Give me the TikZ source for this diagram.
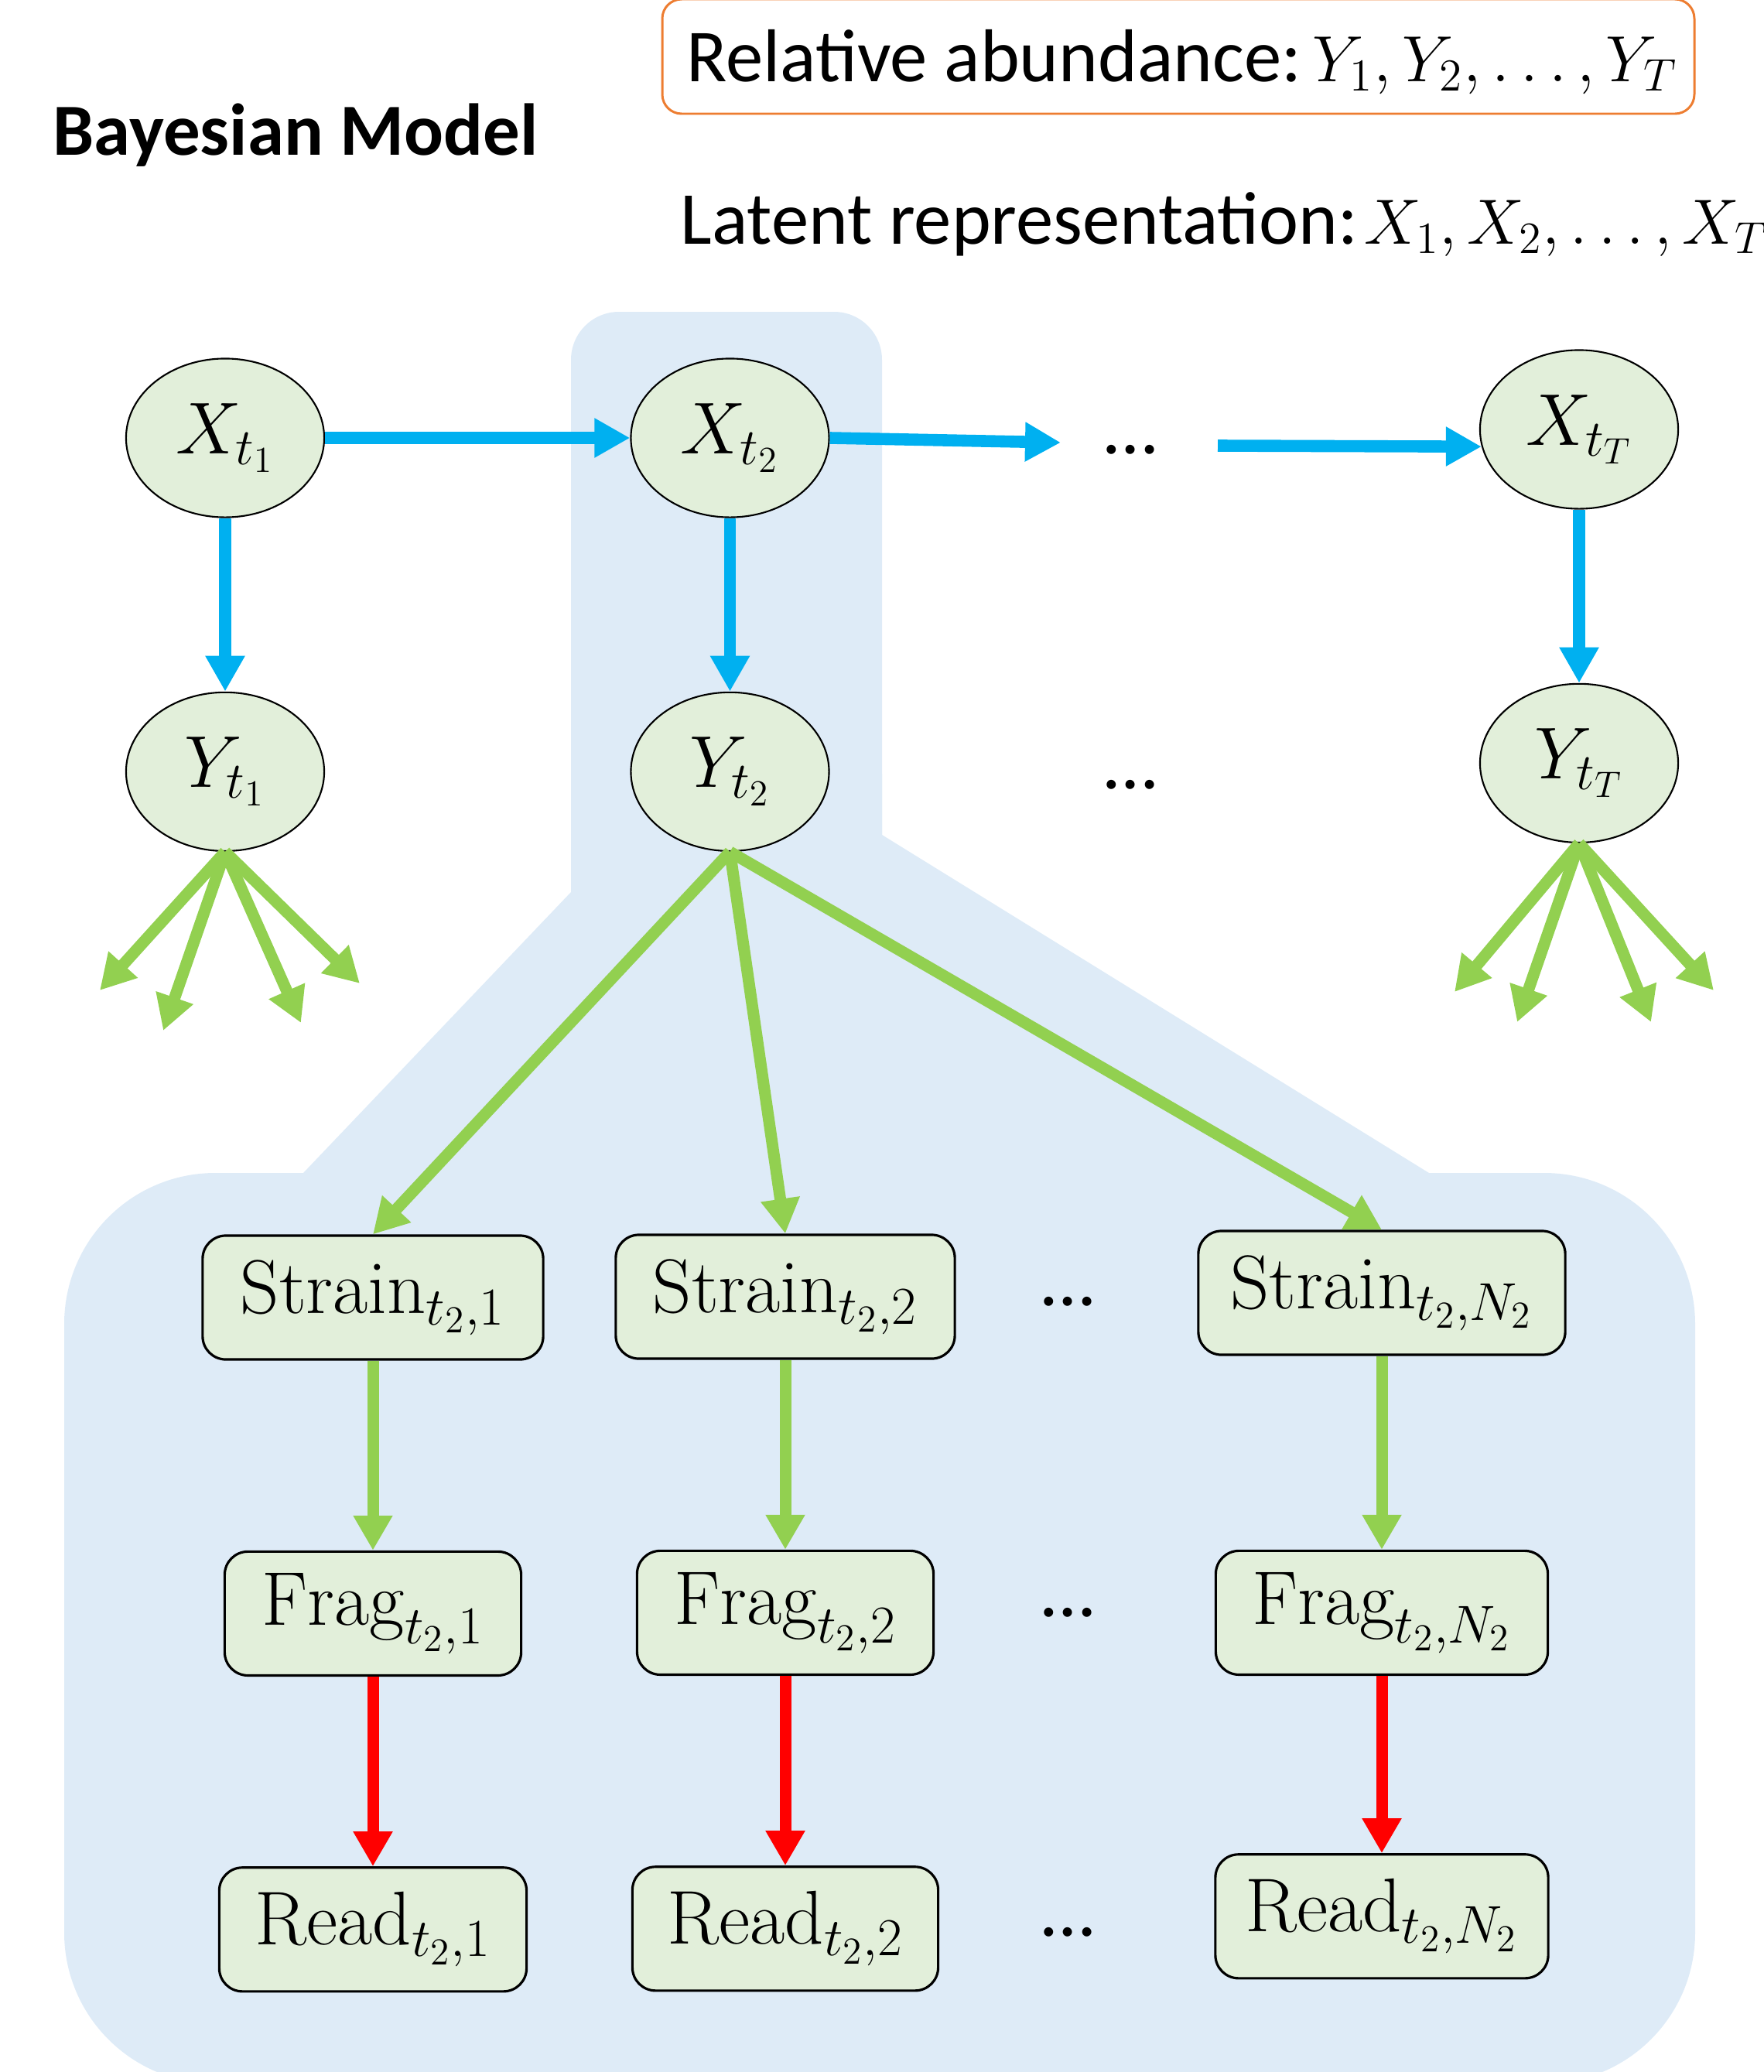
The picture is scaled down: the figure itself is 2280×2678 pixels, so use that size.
\RequirePackage{fix-cm}
\documentclass[tikz,border=0pt]{standalone}
\usepackage{fontspec}
\newfontfamily\calibri{Carlito}
\usepackage{tikz}
\usetikzlibrary{arrows.meta,positioning,shapes.geometric}
\definecolor{skyblue}{HTML}{00B0F0}
\definecolor{leafgreen}{HTML}{92D050}
\definecolor{purered}{HTML}{FF0000}
\definecolor{tangerine}{HTML}{ED7D31}
\definecolor{paleblue}{HTML}{DEEBF7}
\definecolor{palegreen}{HTML}{E2EFDA}
\newcommand{\seqm}[3]{{\fontsize{#3}{29}\selectfont$#1_1, #1_2, \ldots, #1_#2$}}

\begin{document}
\begin{tikzpicture}[
  x=0.01cm,y=-0.01cm,
  every node/.style={font=\fontsize{27}{32}\selectfont},
  lat/.style={ellipse,draw,line width=0.6pt,fill=palegreen,minimum width=2.56cm,minimum height=2.05cm,inner sep=0pt},
  obs/.style={draw,line width=0.9pt,fill=palegreen,rounded corners=0.3cm,minimum height=1.6cm,inner sep=0pt,font=\fontsize{28}{33}\selectfont},
  lbl/.style={inner sep=0pt,anchor=base west,font=\calibri\fontsize{27.5}{33}\selectfont},
  ell/.style={inner sep=0pt,anchor=base,font=\calibri\fontsize{28}{34}\selectfont},
  bl/.style={draw=skyblue,line width=0.156cm,-{Triangle[length=0.46cm,width=0.48cm]}},
  gr/.style={draw=leafgreen,line width=0.15cm,-{Triangle[length=0.45cm,width=0.48cm]}},
  rd/.style={draw=purered,line width=0.15cm,-{Triangle[length=0.45cm,width=0.48cm]}}
]
\useasboundingbox (0,0) rectangle (2280,2678);

\fill[paleblue,rounded corners=0.62cm] (738,403) rectangle (1140,1300);
\fill[paleblue] (738,1000) -- (1140,1000) -- (1140,1079) -- (1847,1516) -- (1847,1800) -- (392,1800) -- (392,1516) -- (738,1153) -- cycle;
\fill[paleblue,rounded corners=1.95cm] (83,1516) rectangle (2191,2693);

\draw[tangerine,line width=0.85pt,rounded corners=0.25cm] (856,-1) rectangle (2190,147);
\node[lbl] (relab) at (887,105) {Relative abundance:\hspace{0.15em}\seqm{Y}{T}{24}};
\node[lbl] (latrep) at (879,315) {Latent representation:\hspace{0.08em}\seqm{X}{T}{23.5}};
\node[lbl,font=\calibri\bfseries\fontsize{27}{32}\selectfont] (title) at (68,200) {Bayesian Model};

\node[lat] (X1) at (291,566) {$X_{t_1}$};
\node[lat,right=3.94cm of X1] (X2) {$X_{t_2}$};
\node[lat] (XT) at (2041,555) {$X_{t_T}$};
\node[lat,below=2.24cm of X1] (Y1) {$Y_{t_1}$};
\node[lat,below=2.24cm of X2] (Y2) {$Y_{t_2}$};
\node[lat,below=2.24cm of XT] (YT) {$Y_{t_T}$};
\node[ell] (xdots) at (1461,586) {\ldots};
\node[ell] (ydots) at (1461,1019) {\ldots};

\node[obs,minimum width=4.4cm] (S1) at (482,1677) {$\mathrm{Strain}_{t_2,1}$};
\node[obs,minimum width=4.38cm] (S2) at (1015,1676) {$\mathrm{Strain}_{t_2,2}$};
\node[obs,minimum width=4.74cm] (SN) at (1786,1671) {$\mathrm{Strain}_{t_2,N_2}$};
\node[obs,minimum width=3.83cm,below=2.45cm of S1] (F1) {$\mathrm{Frag}_{t_2,1}$};
\node[obs,minimum width=3.83cm,below=2.45cm of S2] (F2) {$\mathrm{Frag}_{t_2,2}$};
\node[obs,minimum width=4.29cm,below=2.5cm of SN] (FN) {$\mathrm{Frag}_{t_2,N_2}$};
\node[obs,minimum width=3.97cm,below=2.45cm of F1] (R1) {$\mathrm{Read}_{t_2,1}$};
\node[obs,minimum width=3.95cm,below=2.45cm of F2] (R2) {$\mathrm{Read}_{t_2,2}$};
\node[obs,minimum width=4.3cm,below=2.29cm of FN] (RN) {$\mathrm{Read}_{t_2,N_2}$};
\node[ell] (sdots) at (1380,1687) {\ldots};
\node[ell] (fdots) at (1380,2089) {\ldots};
\node[ell] (rdots) at (1380,2502) {\ldots};

\coordinate (d1) at (1371,572);
\coordinate (d2) at (1574,576);
\draw[bl] (X1) -- (X2);
\draw[bl] (X2.east) -- (d1);
\draw[bl] (d2) -- (XT.190);
\draw[bl] (X1) -- (Y1);
\draw[bl] (X2) -- (Y2);
\draw[bl] (XT) -- (YT);

\foreach \x/\y [count=\k] in {129/1280,211/1332,389/1322,465/1271}{
  \coordinate (a\k) at (\x,\y);
  \draw[gr] (Y1.south) -- (a\k);
}
\foreach \x/\y [count=\k] in {1880/1282,1961/1321,2134/1321,2215/1280}{
  \coordinate (b\k) at (\x,\y);
  \draw[gr] (YT.south) -- (b\k);
}

\draw[gr] (Y2.south) -- (S1.north);
\draw[gr] (Y2.south) -- (S2.north);
\draw[gr] (Y2.south) -- (SN.north);
\draw[gr] (S1) -- (F1);
\draw[gr] (S2) -- (F2);
\draw[gr] (SN) -- (FN);
\draw[rd] (F1) -- (R1);
\draw[rd] (F2) -- (R2);
\draw[rd] (FN) -- (RN);
\end{tikzpicture}
\end{document}
